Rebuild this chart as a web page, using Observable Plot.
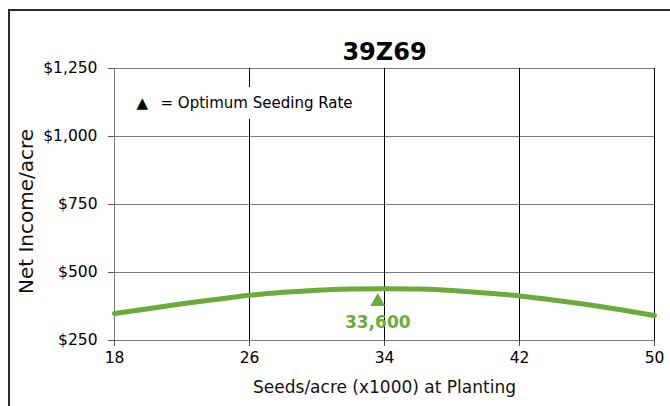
<!DOCTYPE html>
<html>
<head>
<meta charset="utf-8">
<script src="https://cdn.jsdelivr.net/npm/d3@7"></script>
<script src="https://cdn.jsdelivr.net/npm/@observablehq/plot@0.6"></script>
<style>
  html, body { margin: 0; padding: 0; background: #fff; }
  #wrap { position: relative; width: 670px; height: 406px; overflow: hidden; font-family: "DejaVu Sans", sans-serif; }
  #frame { position: absolute; left: 8px; top: 9px; width: 800px; height: 600px; border: 2px solid #2b2b2b; box-sizing: border-box; }
  #chart { position: absolute; left: 0; top: 0; }
</style>
</head>
<body>
<div id="wrap"><div id="frame"></div><div id="chart"></div></div>
<script>
const chartTitle = "39Z69";
const xTitle = "Seeds/acre (x1000) at Planting";
const yTitle = "Net Income/acre";
const legendSymbol = "\u25B2";
const legendText = "= Optimum Seeding Rate";
const xTicks = [18, 26, 34, 42, 50];
const yTicks = [250, 500, 750, 1000, 1250];
const seeds = [18, 20, 22, 24, 26, 28, 30, 32, 34, 36, 38, 40, 42, 44, 46, 48, 50];
const income = [349, 367, 385, 401, 416, 427, 435, 439, 440, 439, 434, 425, 414, 399, 382, 363, 342];
const optimumSeeds = [33.6];
const optimumIncome = [393];
const optimumLabel = ["33,600"];

const green = "#6aab3c";
const curve = seeds.map((s, i) => ({x: s, y: income[i]}));
const opt = optimumSeeds.map((s, i) => ({x: s, y: optimumIncome[i], label: optimumLabel[i]}));
const font = "DejaVu Sans, sans-serif";

const chart = Plot.plot({
  width: 670,
  height: 406,
  marginLeft: 114,
  marginRight: 16,
  marginTop: 68,
  marginBottom: 66,
  style: {fontFamily: font, fontSize: "15px", background: "transparent", color: "#000"},
  x: {domain: [18, 50], ticks: xTicks},
  y: {domain: [250, 1250], ticks: yTicks},
  marks: [
    Plot.gridY(yTicks, {stroke: "#7a7a7a", strokeOpacity: 1, strokeWidth: 1}),
    Plot.gridX(xTicks, {stroke: "#000", strokeOpacity: 1, strokeWidth: 1}),
    Plot.ruleX([18], {stroke: "#7a7a7a", strokeWidth: 1}),
    Plot.ruleY([250], {stroke: "#7a7a7a", strokeWidth: 1}),
    Plot.axisY(yTicks, {tickSize: 6, tickPadding: 11, fontSize: 15.5, tickFormat: d3.format("$,"), stroke: "#555", label: null}),
    Plot.axisX(xTicks, {tickSize: 6, tickPadding: 5, fontSize: 15.5, stroke: "#555", label: null}),
    Plot.text([legendText], {frameAnchor: "top-left", dx: 46, dy: 29, fontSize: 15, textAnchor: "start", fill: "#000", stroke: "white", strokeWidth: 22}),
    Plot.text([legendSymbol], {frameAnchor: "top-left", dx: 22, dy: 29, fontSize: 15, textAnchor: "start", fill: "#000"}),
    Plot.line(curve, {x: "x", y: "y", stroke: green, strokeWidth: 5, curve: "natural"}),
    Plot.dot(opt, {x: "x", y: "y", symbol: "triangle", fill: green, r: 5.5}),
    Plot.text(opt, {x: "x", y: "y", text: "label", dy: 21, fill: green, fontSize: 17, fontWeight: "bold"}),
    Plot.text([chartTitle], {frameAnchor: "top", dy: -26, fontSize: 24, fontWeight: "bold", fill: "#000"}),
    Plot.text([xTitle], {frameAnchor: "bottom", dy: 52, fontSize: 17, fill: "#111"}),
    Plot.text([yTitle], {frameAnchor: "left", textAnchor: "middle", rotate: -90, dx: -88, dy: 7, fontSize: 20, fill: "#111"})
  ]
});
document.getElementById("chart").appendChild(chart);
</script>
</body>
</html>
